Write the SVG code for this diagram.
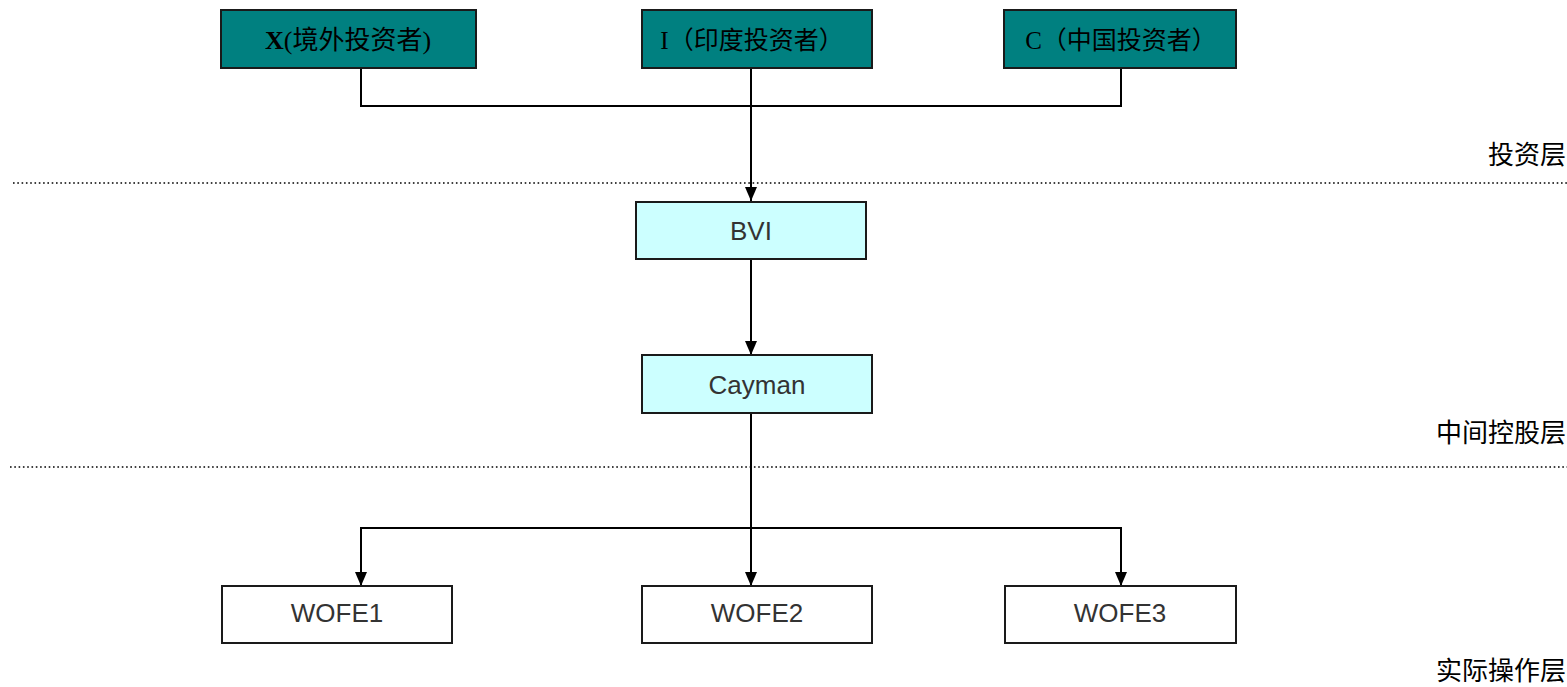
<svg xmlns="http://www.w3.org/2000/svg" width="1567" height="687" viewBox="0 0 1567 687">
<defs>
<style>
.inv{fill:#008080;stroke:#1a1a1a;stroke-width:2}
.mid{fill:#ccffff;stroke:#1a1a1a;stroke-width:2}
.op{fill:#ffffff;stroke:#1a1a1a;stroke-width:2}
.tser{font-family:"Liberation Serif","Noto Sans CJK SC",serif;font-size:25px;fill:#000;text-anchor:middle}
.tsans{font-family:"Liberation Sans","Noto Sans CJK SC",sans-serif;font-size:26px;fill:#333;text-anchor:middle}
.lbl{font-family:"Liberation Serif","Noto Sans CJK SC",serif;font-size:26px;fill:#000;text-anchor:end}
.conn{fill:none;stroke:#000;stroke-width:2}
.dot{fill:none;stroke:#000;stroke-width:1.6;stroke-dasharray:1.6 2.7}
</style>
</defs>
<g id="layers">
<line class="dot" x1="13" y1="183" x2="1567" y2="183"/>
<line class="dot" x1="10" y1="467" x2="1567" y2="467"/>
<text class="lbl" x="1566" y="164">投资层</text>
<text class="lbl" x="1566" y="442">中间控股层</text>
<text class="lbl" x="1566" y="680">实际操作层</text>
</g>
<g id="connectors">
<polyline class="conn" points="361,68 361,106 1121,106 1121,68"/>
<line class="conn" x1="751" y1="68" x2="751" y2="201"/>
<path d="M745,187 L757,187 L751,201 Z" fill="#000"/>
<line class="conn" x1="751" y1="259" x2="751" y2="355"/>
<path d="M745,341 L757,341 L751,355 Z" fill="#000"/>
<line class="conn" x1="751" y1="413" x2="751" y2="586"/>
<polyline class="conn" points="361,586 361,528 1121,528 1121,586"/>
<path d="M355,572 L367,572 L361,586 Z" fill="#000"/>
<path d="M745,572 L757,572 L751,586 Z" fill="#000"/>
<path d="M1115,572 L1127,572 L1121,586 Z" fill="#000"/>
</g>
<g id="node-x">
<rect class="inv" x="221" y="10" width="255" height="58"/>
<text class="tser" x="348" y="49" style="font-size:26px"><tspan font-weight="bold">X</tspan>(境外投资者)</text>
</g>
<g id="node-i">
<rect class="inv" x="642" y="10" width="230" height="58"/>
<text class="tser" x="752" y="49">I（印度投资者）</text>
</g>
<g id="node-c">
<rect class="inv" x="1004" y="10" width="232" height="58"/>
<text class="tser" x="1121" y="49">C（中国投资者）</text>
</g>
<g id="node-bvi">
<rect class="mid" x="636" y="202" width="230" height="57"/>
<text class="tsans" x="751" y="240">BVI</text>
</g>
<g id="node-cayman">
<rect class="mid" x="642" y="355" width="230" height="58"/>
<text class="tsans" x="757" y="394">Cayman</text>
</g>
<g id="node-wofe1">
<rect class="op" x="222" y="586" width="230" height="57"/>
<text class="tsans" x="337" y="622">WOFE1</text>
</g>
<g id="node-wofe2">
<rect class="op" x="642" y="586" width="230" height="57"/>
<text class="tsans" x="757" y="622">WOFE2</text>
</g>
<g id="node-wofe3">
<rect class="op" x="1005" y="586" width="231" height="57"/>
<text class="tsans" x="1120" y="622">WOFE3</text>
</g>
</svg>
